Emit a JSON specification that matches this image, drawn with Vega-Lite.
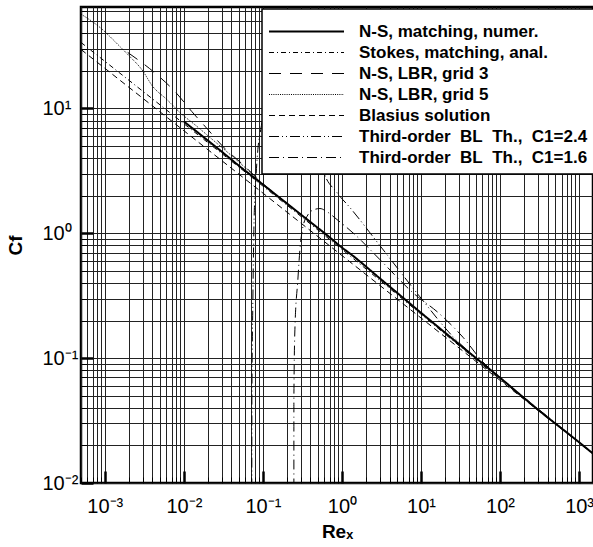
{
  "$schema": "https://vega.github.io/schema/vega-lite/v6.json",
  "autosize": {"type": "none"},
  "padding": {"left": 81, "top": 7, "right": 0, "bottom": 64},
  "width": 512,
  "height": 476,
  "background": "white",
  "data": {"values": [
    {"s": "N-S, matching, numer.", "i": 1, "x": 0.01, "y": 7.87},
    {"s": "N-S, matching, numer.", "i": 2, "x": 0.0174, "y": 5.96},
    {"s": "N-S, matching, numer.", "i": 3, "x": 0.03, "y": 4.52},
    {"s": "N-S, matching, numer.", "i": 4, "x": 0.0512, "y": 3.43},
    {"s": "N-S, matching, numer.", "i": 5, "x": 0.1, "y": 2.46},
    {"s": "N-S, matching, numer.", "i": 6, "x": 0.2, "y": 1.74},
    {"s": "N-S, matching, numer.", "i": 7, "x": 0.4, "y": 1.23},
    {"s": "N-S, matching, numer.", "i": 8, "x": 0.705, "y": 0.925},
    {"s": "N-S, matching, numer.", "i": 9, "x": 1, "y": 0.769},
    {"s": "N-S, matching, numer.", "i": 10, "x": 1.26, "y": 0.69},
    {"s": "N-S, matching, numer.", "i": 11, "x": 3, "y": 0.437},
    {"s": "N-S, matching, numer.", "i": 12, "x": 10, "y": 0.231},
    {"s": "N-S, matching, numer.", "i": 13, "x": 30, "y": 0.13},
    {"s": "N-S, matching, numer.", "i": 14, "x": 100, "y": 0.0697},
    {"s": "N-S, matching, numer.", "i": 15, "x": 300, "y": 0.0388},
    {"s": "N-S, matching, numer.", "i": 16, "x": 1000, "y": 0.0212},
    {"s": "N-S, matching, numer.", "i": 17, "x": 1500, "y": 0.0172},

    {"s": "Stokes, matching, anal.", "i": 1, "x": 0.0005, "y": 33.8},
    {"s": "Stokes, matching, anal.", "i": 2, "x": 0.001, "y": 23.9},
    {"s": "Stokes, matching, anal.", "i": 3, "x": 0.01, "y": 7.56},
    {"s": "Stokes, matching, anal.", "i": 4, "x": 0.1, "y": 2.39},
    {"s": "Stokes, matching, anal.", "i": 5, "x": 1, "y": 0.744},
    {"s": "Stokes, matching, anal.", "i": 6, "x": 10, "y": 0.225},
    {"s": "Stokes, matching, anal.", "i": 7, "x": 100, "y": 0.0677},
    {"s": "Stokes, matching, anal.", "i": 8, "x": 1000, "y": 0.0211},
    {"s": "Stokes, matching, anal.", "i": 9, "x": 1500, "y": 0.0172},

    {"s": "N-S, LBR, grid 3", "i": 1, "x": 0.00195, "y": 28.1},
    {"s": "N-S, LBR, grid 3", "i": 2, "x": 0.00455, "y": 18.7},
    {"s": "N-S, LBR, grid 3", "i": 3, "x": 0.00769, "y": 13.7},
    {"s": "N-S, LBR, grid 3", "i": 4, "x": 0.0126, "y": 9.46},
    {"s": "N-S, LBR, grid 3", "i": 5, "x": 0.0201, "y": 6.79},
    {"s": "N-S, LBR, grid 3", "i": 6, "x": 0.0312, "y": 4.96},
    {"s": "N-S, LBR, grid 3", "i": 7, "x": 0.0558, "y": 3.56},
    {"s": "N-S, LBR, grid 3", "i": 8, "x": 0.1, "y": 2.5},
    {"s": "N-S, LBR, grid 3", "i": 9, "x": 0.2, "y": 1.75},
    {"s": "N-S, LBR, grid 3", "i": 10, "x": 0.3, "y": 1.42},

    {"s": "N-S, LBR, grid 5", "i": 1, "x": 0.0005, "y": 57},
    {"s": "N-S, LBR, grid 5", "i": 2, "x": 0.000865, "y": 44.7},
    {"s": "N-S, LBR, grid 5", "i": 3, "x": 0.00155, "y": 31.4},
    {"s": "N-S, LBR, grid 5", "i": 4, "x": 0.00207, "y": 26.1},
    {"s": "N-S, LBR, grid 5", "i": 5, "x": 0.00294, "y": 20.5},
    {"s": "N-S, LBR, grid 5", "i": 6, "x": 0.00405, "y": 15.0},
    {"s": "N-S, LBR, grid 5", "i": 7, "x": 0.0061, "y": 11.8},
    {"s": "N-S, LBR, grid 5", "i": 8, "x": 0.0089, "y": 9.3},
    {"s": "N-S, LBR, grid 5", "i": 9, "x": 0.0146, "y": 7.2},
    {"s": "N-S, LBR, grid 5", "i": 10, "x": 0.0233, "y": 5.6},
    {"s": "N-S, LBR, grid 5", "i": 11, "x": 0.0417, "y": 4.1},
    {"s": "N-S, LBR, grid 5", "i": 12, "x": 0.0747, "y": 2.95},
    {"s": "N-S, LBR, grid 5", "i": 13, "x": 0.1, "y": 2.47},
    {"s": "N-S, LBR, grid 5", "i": 14, "x": 0.3, "y": 1.42},

    {"s": "Blasius solution", "i": 1, "x": 0.0005, "y": 29.7},
    {"s": "Blasius solution", "i": 2, "x": 0.001, "y": 21.0},
    {"s": "Blasius solution", "i": 3, "x": 0.01, "y": 6.64},
    {"s": "Blasius solution", "i": 4, "x": 0.1, "y": 2.1},
    {"s": "Blasius solution", "i": 5, "x": 1, "y": 0.664},
    {"s": "Blasius solution", "i": 6, "x": 10, "y": 0.21},
    {"s": "Blasius solution", "i": 7, "x": 100, "y": 0.0664},
    {"s": "Blasius solution", "i": 8, "x": 1000, "y": 0.021},
    {"s": "Blasius solution", "i": 9, "x": 1500, "y": 0.01714},

    {"s": "Third-order\u00a0 BL\u00a0 Th.,\u00a0 C1=2.4", "i": 1, "x": 0.0724, "y": 0.009},
    {"s": "Third-order\u00a0 BL\u00a0 Th.,\u00a0 C1=2.4", "i": 2, "x": 0.0726, "y": 0.0463},
    {"s": "Third-order\u00a0 BL\u00a0 Th.,\u00a0 C1=2.4", "i": 3, "x": 0.0747, "y": 0.294},
    {"s": "Third-order\u00a0 BL\u00a0 Th.,\u00a0 C1=2.4", "i": 4, "x": 0.0769, "y": 1.07},
    {"s": "Third-order\u00a0 BL\u00a0 Th.,\u00a0 C1=2.4", "i": 5, "x": 0.0815, "y": 2.7},
    {"s": "Third-order\u00a0 BL\u00a0 Th.,\u00a0 C1=2.4", "i": 6, "x": 0.0864, "y": 4.69},
    {"s": "Third-order\u00a0 BL\u00a0 Th.,\u00a0 C1=2.4", "i": 7, "x": 0.094, "y": 6.8},
    {"s": "Third-order\u00a0 BL\u00a0 Th.,\u00a0 C1=2.4", "i": 8, "x": 0.123, "y": 14.2},
    {"s": "Third-order\u00a0 BL\u00a0 Th.,\u00a0 C1=2.4", "i": 9, "x": 0.19, "y": 24.7},
    {"s": "Third-order\u00a0 BL\u00a0 Th.,\u00a0 C1=2.4", "i": 10, "x": 0.294, "y": 20.6},
    {"s": "Third-order\u00a0 BL\u00a0 Th.,\u00a0 C1=2.4", "i": 11, "x": 0.417, "y": 9.8},
    {"s": "Third-order\u00a0 BL\u00a0 Th.,\u00a0 C1=2.4", "i": 12, "x": 0.574, "y": 3.24},
    {"s": "Third-order\u00a0 BL\u00a0 Th.,\u00a0 C1=2.4", "i": 13, "x": 0.865, "y": 2.12},
    {"s": "Third-order\u00a0 BL\u00a0 Th.,\u00a0 C1=2.4", "i": 14, "x": 1.26, "y": 1.61},
    {"s": "Third-order\u00a0 BL\u00a0 Th.,\u00a0 C1=2.4", "i": 15, "x": 3.03, "y": 0.796},
    {"s": "Third-order\u00a0 BL\u00a0 Th.,\u00a0 C1=2.4", "i": 16, "x": 9.7, "y": 0.31},
    {"s": "Third-order\u00a0 BL\u00a0 Th.,\u00a0 C1=2.4", "i": 17, "x": 25.4, "y": 0.1486},
    {"s": "Third-order\u00a0 BL\u00a0 Th.,\u00a0 C1=2.4", "i": 18, "x": 60, "y": 0.091},
    {"s": "Third-order\u00a0 BL\u00a0 Th.,\u00a0 C1=2.4", "i": 19, "x": 100, "y": 0.0697},
    {"s": "Third-order\u00a0 BL\u00a0 Th.,\u00a0 C1=2.4", "i": 20, "x": 1000, "y": 0.0212},
    {"s": "Third-order\u00a0 BL\u00a0 Th.,\u00a0 C1=2.4", "i": 21, "x": 1500, "y": 0.0172},

    {"s": "Third-order\u00a0 BL\u00a0 Th.,\u00a0 C1=1.6", "i": 1, "x": 0.2466, "y": 0.009},
    {"s": "Third-order\u00a0 BL\u00a0 Th.,\u00a0 C1=1.6", "i": 2, "x": 0.2467, "y": 0.0463},
    {"s": "Third-order\u00a0 BL\u00a0 Th.,\u00a0 C1=1.6", "i": 3, "x": 0.254, "y": 0.169},
    {"s": "Third-order\u00a0 BL\u00a0 Th.,\u00a0 C1=1.6", "i": 4, "x": 0.277, "y": 0.426},
    {"s": "Third-order\u00a0 BL\u00a0 Th.,\u00a0 C1=1.6", "i": 5, "x": 0.294, "y": 0.74},
    {"s": "Third-order\u00a0 BL\u00a0 Th.,\u00a0 C1=1.6", "i": 6, "x": 0.321, "y": 1.13},
    {"s": "Third-order\u00a0 BL\u00a0 Th.,\u00a0 C1=1.6", "i": 7, "x": 0.36, "y": 1.36},
    {"s": "Third-order\u00a0 BL\u00a0 Th.,\u00a0 C1=1.6", "i": 8, "x": 0.417, "y": 1.52},
    {"s": "Third-order\u00a0 BL\u00a0 Th.,\u00a0 C1=1.6", "i": 9, "x": 0.527, "y": 1.58},
    {"s": "Third-order\u00a0 BL\u00a0 Th.,\u00a0 C1=1.6", "i": 10, "x": 0.646, "y": 1.49},
    {"s": "Third-order\u00a0 BL\u00a0 Th.,\u00a0 C1=1.6", "i": 11, "x": 0.865, "y": 1.29},
    {"s": "Third-order\u00a0 BL\u00a0 Th.,\u00a0 C1=1.6", "i": 12, "x": 1.46, "y": 0.977},
    {"s": "Third-order\u00a0 BL\u00a0 Th.,\u00a0 C1=1.6", "i": 13, "x": 3.03, "y": 0.615},
    {"s": "Third-order\u00a0 BL\u00a0 Th.,\u00a0 C1=1.6", "i": 14, "x": 7.92, "y": 0.334},
    {"s": "Third-order\u00a0 BL\u00a0 Th.,\u00a0 C1=1.6", "i": 15, "x": 17.4, "y": 0.225},
    {"s": "Third-order\u00a0 BL\u00a0 Th.,\u00a0 C1=1.6", "i": 16, "x": 34, "y": 0.147},
    {"s": "Third-order\u00a0 BL\u00a0 Th.,\u00a0 C1=1.6", "i": 17, "x": 60, "y": 0.094},
    {"s": "Third-order\u00a0 BL\u00a0 Th.,\u00a0 C1=1.6", "i": 18, "x": 100, "y": 0.0697},
    {"s": "Third-order\u00a0 BL\u00a0 Th.,\u00a0 C1=1.6", "i": 19, "x": 1000, "y": 0.0212},
    {"s": "Third-order\u00a0 BL\u00a0 Th.,\u00a0 C1=1.6", "i": 20, "x": 1500, "y": 0.0172}
  ]},
  "mark": {"type": "line", "clip": true, "interpolate": "monotone", "strokeCap": "butt"},
  "encoding": {
    "x": {
      "field": "x", "type": "quantitative",
      "scale": {"type": "log", "domain": [0.0005, 1500], "nice": false},
      "axis": {
        "values": [0.0005,0.0006,0.0007,0.0008,0.0009,0.001,0.002,0.003,0.004,0.005,0.006,0.007,0.008,0.009,0.01,0.02,0.03,0.04,0.05,0.06,0.07,0.08,0.09,0.1,0.2,0.3,0.4,0.5,0.6,0.7,0.8,0.9,1,2,3,4,5,6,7,8,9,10,20,30,40,50,60,70,80,90,100,200,300,400,500,600,700,800,900,1000],
        "labelExpr": "abs(log(datum.value)/LN10 - round(log(datum.value)/LN10)) < 1e-6 ? '10' + replace(replace(replace(replace(replace(''+round(log(datum.value)/LN10), '-', '⁻'), '0', '⁰'), '1', '¹'), '2', '²'), '3', '³') : ''",
        "tickSize": {"condition": {"test": "abs(log(datum.value)/LN10 - round(log(datum.value)/LN10)) < 1e-6", "value": -12}, "value": -6},
        "tickWidth": {"condition": {"test": "abs(log(datum.value)/LN10 - round(log(datum.value)/LN10)) < 1e-6", "value": 2.5}, "value": 1},
        "labelPadding": 25,
        "title": "Reₓ",
        "titlePadding": 0
      }
    },
    "y": {
      "field": "y", "type": "quantitative",
      "scale": {"type": "log", "domain": [0.01, 65], "nice": false},
      "axis": {
        "values": [0.01,0.02,0.03,0.04,0.05,0.06,0.07,0.08,0.09,0.1,0.2,0.3,0.4,0.5,0.6,0.7,0.8,0.9,1,2,3,4,5,6,7,8,9,10,20,30,40,50,60],
        "labelExpr": "abs(log(datum.value)/LN10 - round(log(datum.value)/LN10)) < 1e-6 ? '10' + replace(replace(replace(replace(replace(''+round(log(datum.value)/LN10), '-', '⁻'), '0', '⁰'), '1', '¹'), '2', '²'), '3', '³') : ''",
        "tickSize": {"condition": {"test": "abs(log(datum.value)/LN10 - round(log(datum.value)/LN10)) < 1e-6", "value": -12}, "value": -6},
        "tickWidth": {"condition": {"test": "abs(log(datum.value)/LN10 - round(log(datum.value)/LN10)) < 1e-6", "value": 2.5}, "value": 1},
        "labelAlign": "left",
        "labelPadding": 51,
        "title": "Cf",
        "titlePadding": 11
      }
    },
    "order": {"field": "i", "type": "quantitative"},
    "strokeDash": {
      "field": "s", "type": "nominal",
      "scale": {
        "domain": ["N-S, matching, numer.", "Stokes, matching, anal.", "N-S, LBR, grid 3", "N-S, LBR, grid 5", "Blasius solution", "Third-order\u00a0 BL\u00a0 Th.,\u00a0 C1=2.4", "Third-order\u00a0 BL\u00a0 Th.,\u00a0 C1=1.6"],
        "range": [[1, 0], [5, 3, 1, 3], [12, 9], [1, 1.2], [6, 4], [10, 3, 1, 3, 1, 3], [10, 4, 1, 4]]
      },
      "legend": {"title": " ", "orient": "none", "legendX": 181, "legendY": 2}
    },
    "strokeWidth": {
      "field": "s", "type": "nominal",
      "scale": {
        "type": "ordinal",
        "domain": ["N-S, matching, numer.", "Stokes, matching, anal.", "N-S, LBR, grid 3", "N-S, LBR, grid 5", "Blasius solution", "Third-order\u00a0 BL\u00a0 Th.,\u00a0 C1=2.4", "Third-order\u00a0 BL\u00a0 Th.,\u00a0 C1=1.6"],
        "range": [2, 1, 1, 1, 1, 1, 1]
      },
      "legend": {"title": " ", "orient": "none", "legendX": 181, "legendY": 2}
    },
    "color": {"value": "black"}
  },
  "config": {
    "view": {"stroke": "black", "strokeWidth": 2.5},
    "font": "Liberation Sans",
    "axis": {
      "grid": true,
      "gridColor": "#222222",
      "gridWidth": 1,
      "gridOpacity": 1,
      "domain": false,
      "tickColor": "black",
      "labelFont": "Liberation Sans",
      "labelFontSize": 20,
      "labelColor": "black",
      "labelOverlap": false,
      "labelFlush": false,
      "labelBound": false,
      "titleFont": "Liberation Sans",
      "titleFontSize": 19,
      "titleFontWeight": "bold",
      "titleColor": "black"
    },
    "legend": {
      "fillColor": "white",
      "strokeColor": "black",
      "strokeWidth": 1.5,
      "padding": 6,
      "symbolType": "stroke",
      "symbolSize": 5625,
      "symbolStrokeColor": "black",
      "labelFont": "Liberation Sans",
      "labelFontSize": 17,
      "labelFontWeight": "bold",
      "labelColor": "black",
      "labelOffset": 14,
      "labelLimit": 400,
      "clipHeight": 21,
      "rowPadding": 0,
      "titleFontSize": 4,
      "titlePadding": 2
    }
  }
}
